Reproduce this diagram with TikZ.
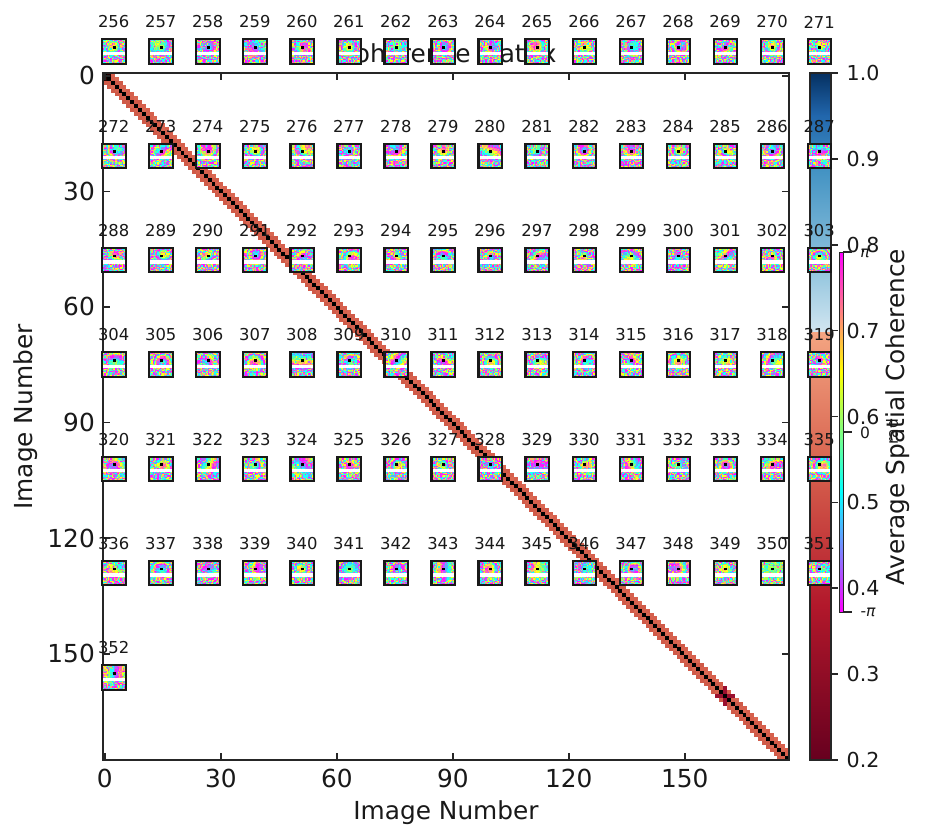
\documentclass[tikz,border=0pt]{standalone}
\usepackage{fontspec}
\setmainfont{DejaVu Sans}
\definecolor{spine}{HTML}{262626}
\definecolor{coralA}{HTML}{D6604D}
\definecolor{coralB}{HTML}{CF5A48}
\definecolor{coralC}{HTML}{DA6853}
\definecolor{lowred}{HTML}{9A0F2E}
\tikzset{
  tickmark/.style={draw=spine,line width=1.6pt},
  frameline/.style={draw=spine,line width=2.2pt},
  ticklabel/.style={font=\fontsize{24.8}{26}\selectfont,inner sep=0pt,text=black!90},
  cblabel/.style={font=\fontsize{20.6}{22}\selectfont,inner sep=0pt,anchor=west,text=black!90},
  axlabel/.style={font=\fontsize{24.8}{26}\selectfont,inner sep=0pt,text=black!90},
  inlabel/.style={font=\fontsize{16.4}{18}\selectfont,inner sep=0pt,text=black!90},
  phlabel/.style={font=\fontsize{15.5}{17}\selectfont,inner sep=0pt,text=black!90},
  insetframe/.style={draw=black!90,line width=2.2pt}
}
\makeatletter
\newcount\pxi \newcount\pxj \newcount\pxv \newcount\pxr \newcount\pxs
\newcount\pxa \newcount\pxb \newcount\pxk \newcount\pxR \newcount\pxB \newcount\pxL
\newcount\pxy
\newdimen\pxX \newdimen\pxY
\def\nxt{\global\pxs=\numexpr\pxs*171-30269*((\pxs*171)/30269)\relax
  \ifnum\pxs<0 \global\advance\pxs 30269 \fi
  \ifnum\pxs=0 \global\pxs=7 \fi}
\def\rnd#1{\nxt\pxv=\numexpr(\pxs*#1-15134)/30269\relax
  \ifnum\pxv<0 \pxv=0 \fi}
\expandafter\def\csname col0\endcsname{1 .1 1 rg}
\expandafter\def\csname col1\endcsname{1 .4 .7 rg}
\expandafter\def\csname col2\endcsname{1 .7 .4 rg}
\expandafter\def\csname col3\endcsname{1 1 .1 rg}
\expandafter\def\csname col4\endcsname{.67 1 .33 rg}
\expandafter\def\csname col5\endcsname{.33 1 .67 rg}
\expandafter\def\csname col6\endcsname{.1 1 1 rg}
\expandafter\def\csname col7\endcsname{.33 .7 1 rg}
\expandafter\def\csname col8\endcsname{.7 .4 1 rg}
\def\onepix{%
  \pxr=\numexpr(\pxi-9)*(\pxi-9)+(\pxj-6)*(\pxj-6)\relax
  \rnd{100}%
  \ifnum\numexpr\pxv*\pxR\relax<\numexpr\pxr*100\relax
    \rnd{14}%
    \ifnum\pxv>8 \pxv=\ifcase\numexpr\pxv-9\relax 0\or 6\or 3\or 0\or 6\else 0\fi\relax\fi
  \else
    \rnd{2}%
    \pxv=\numexpr900+\pxB+(\pxa*(\pxi-9)+\pxb*(\pxj-6))/3+\pxk*\pxr/16+\pxv\relax
    \pxv=\numexpr\pxv-9*((\pxv-4)/9)\relax
    \ifnum\pxv>8 \pxv=8 \fi
    \ifnum\pxv<0 \pxv=0 \fi
  \fi
  \ifnum\pxv=\pxL
    \edef\rowstr{\rowstr\the\pxi\space\the\pxy\space 1.1 1.1 re f }%
  \else
    \pxL=\pxv
    \edef\rowstr{\rowstr\csname col\the\pxv\endcsname\space\the\pxi\space\the\pxy\space 1.1 1.1 re f }%
  \fi
}
\def\colloop{\ifnum\pxi<18 \onepix\advance\pxi1 \expandafter\colloop\fi}
\def\rowloop{\ifnum\pxj<19 \pxi=0 \pxy=\numexpr18-\pxj\relax \def\rowstr{}\colloop
  \pgfsys@invoke{\rowstr}\advance\pxj1 \expandafter\rowloop\fi}
% #1 cx, #2 cy, #3 image number
\def\noisetile#1#2#3{%
  \global\pxs=\numexpr(#3-255)*311+17\relax
  \nxt\nxt\nxt
  \rnd{50}\pxR=\numexpr35+\pxv\relax
  \rnd{2}\ifnum\pxv=0 \pxR=\numexpr\pxR+80\relax\fi
  \rnd{9}\pxB=\pxv
  \rnd{5}\pxa=\numexpr\pxv-2\relax
  \rnd{5}\pxb=\numexpr\pxv-2\relax
  \rnd{4}\pxk=\pxv
  \pxX=\dimexpr#1pt-11pt\relax
  \pxY=\dimexpr-#2pt-11.5pt\relax
  \pxj=0 \pxL=-1
  \pgfsys@beginscope
  \pgfsys@transformcm{1.222}{0}{0}{1.21}{\pxX}{\pxY}%
  \rowloop
  \pgfsys@endscope
}
\makeatother
\begin{document}
\begin{tikzpicture}[x=1pt,y=-1pt]
\useasboundingbox (0,0) rectangle (925,839);
\fill[white] (0,0) rectangle (925,839);
% title (lies beneath the insets)
\node[axlabel] (title) at (447,53) {Coherence Matrix};
% diagonal band of the matrix
\def\cw{3.8757}\def\ch{3.8814}
\foreach \i in {0,...,176}{
  \foreach \d in {-2,-1,1,2}{
    \pgfmathtruncatemacro{\j}{\i+\d}
    \ifnum\j>-1 \ifnum\j<177
      \pgfmathtruncatemacro{\tone}{mod(\i*7+(\d+2)*13+\i*\d+500,5)}
      \ifnum\tone=0 \def\tc{coralB}\else\ifnum\tone=1 \def\tc{coralC}\else\def\tc{coralA}\fi\fi
      \fill[\tc] ({103+\j*\cw},{73+\i*\ch}) rectangle ++(\cw+.15,\ch+.15);
    \fi\fi
  }
}
\foreach \i/\j in {160/158,160/159,160/161,160/162,158/160,159/160,161/160,162/160}{
  \fill[lowred] ({103+\j*\cw},{73+\i*\ch}) rectangle ++(\cw+.15,\ch+.15);
}
\foreach \i/\j in {0/1,1/0}{
  \fill[black!85!red] ({103+\j*\cw},{73+\i*\ch}) rectangle ++(\cw+.15,\ch+.15);
}
\foreach \i in {0,...,176}{
  \fill[black] ({103+\i*\cw},{73+\i*\ch}) rectangle ++(\cw+.1,\ch+.1);
}
% axes frame and ticks
\foreach \k/\t in {0/0,1/30,2/60,3/90,4/120,5/150}{
  \pgfmathsetmacro{\xx}{104.8+\k*116}
  \pgfmathsetmacro{\yy}{75.7+\k*115.6}
  \draw[tickmark] (\xx,73) -- (\xx,80);
  \draw[tickmark] (\xx,760) -- (\xx,753);
  \draw[tickmark] (103,\yy) -- (110,\yy);
  \draw[tickmark] (789,\yy) -- (782,\yy);
  \node[ticklabel] (xt\t) at (\xx,778) {\t};
  \node[ticklabel,anchor=east] (yt\t) at (95,\yy) {\t};
}
\draw[frameline] (103,73) rectangle (789,760);
\node[axlabel] (xlabel) at (446,813) {Image Number};
\node[axlabel,rotate=90] (ylabel) at (26,417) {Image Number};
% main colour bar
\shade[bottom color={rgb,255:red,103;green,0;blue,31},top color={rgb,255:red,178;green,24;blue,43}] (810,760) rectangle (831,605);
\shade[bottom color={rgb,255:red,178;green,24;blue,43},top color={rgb,255:red,214;green,96;blue,77}] (810,605.2) rectangle (831,470);
\shade[bottom color={rgb,255:red,214;green,96;blue,77},top color={rgb,255:red,244;green,165;blue,130}] (810,470.2) rectangle (831,331);
\shade[bottom color={rgb,255:red,209;green,229;blue,240},top color={rgb,255:red,146;green,197;blue,222}] (810,331) rectangle (831,270);
\shade[bottom color={rgb,255:red,146;green,197;blue,222},top color={rgb,255:red,67;green,147;blue,195}] (810,270.2) rectangle (831,170);
\shade[bottom color={rgb,255:red,67;green,147;blue,195},top color={rgb,255:red,33;green,102;blue,172}] (810,170.2) rectangle (831,115);
\shade[bottom color={rgb,255:red,33;green,102;blue,172},top color={rgb,255:red,5;green,48;blue,97}] (810,115.2) rectangle (831,73);
\draw[draw=spine,line width=1.4pt] (810,73) rectangle (831,760);
\foreach \k/\t in {0/0.2,1/0.3,2/0.4,3/0.5,4/0.6,5/0.7,6/0.8,7/0.9,8/1.0}{
  \pgfmathsetmacro{\yy}{760-\k*85.875}
  \draw[tickmark] (831,\yy) -- (838,\yy);
  \node[cblabel] (cb\k) at (846.5,\yy) {\t};
}
\node[axlabel,rotate=90] (cblabel) at (898,417) {Average Spatial Coherence};
% phase colour bar
\shade[top color=magenta,bottom color=yellow] (839.8,252) rectangle (843,372);
\shade[top color=yellow,bottom color=cyan] (839.8,372) rectangle (843,492);
\shade[top color=cyan,bottom color=magenta] (839.8,492) rectangle (843,612);
\draw[draw=spine,line width=.7pt] (839.8,252) rectangle (843,612);
\draw[tickmark,line width=1.2pt] (843,252) -- (852,252);
\draw[tickmark,line width=1.2pt] (843,432) -- (852,432);
\draw[tickmark,line width=1.2pt] (843,612) -- (852,612);
\node[phlabel] (phtop) at (865,253) {\itshape π};
\node[phlabel] (phmid) at (865,433) {0};
\node[phlabel] (phbot) at (868,612) {-{\itshape π}};
\node[phlabel,rotate=90] (phrad) at (892,432) {rad};
% inset interferograms
\foreach \r in {0,...,6}{
  \foreach \c in {0,...,15}{
    \pgfmathtruncatemacro{\n}{256+16*\r+\c}
    \ifnum\n<353
      \pgfmathsetmacro{\cx}{114.1+47.03*\c}
      \pgfmathsetmacro{\cy}{51.5+104.33*\r}
      \fill[white] (\cx-11.8,\cy-12.2) rectangle (\cx+11.8,\cy+12.2);
      \noisetile{\cx}{\cy}{\n}
      \fill[white] (\cx-11,\cy+.3) rectangle (\cx+11,\cy+3.6);
      \fill[black] (\cx-1.3,\cy-5.5) rectangle (\cx+1.5,\cy-2.7);
      \draw[insetframe] (\cx-11.8,\cy-12.2) rectangle (\cx+11.8,\cy+12.2);
      \node[inlabel] (lab\n) at (\cx-.4,\cy-29.5) {\n};
    \fi
  }
}
\end{tikzpicture}
\end{document}
